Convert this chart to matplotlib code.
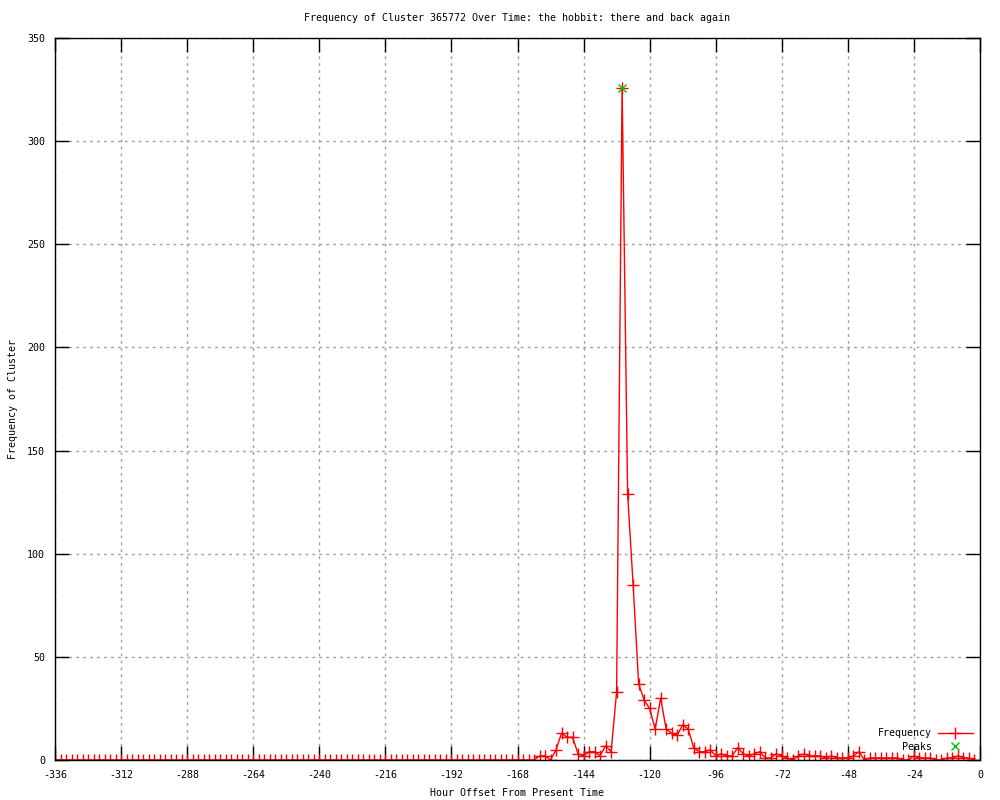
import numpy as np
import matplotlib
matplotlib.use('Agg')
import matplotlib.pyplot as plt

# hourly offsets, sampled every 2 hours
hours = np.arange(-336, 0, 2)

freq = [
    0, 0, 0, 0, 0, 0, 0, 0, 0, 0, 0, 0, 0, 0, 0, 0, 0, 0, 0, 0, 0, 0,
    0, 0, 0, 0, 0, 0, 0, 0, 0, 0, 0, 0, 0, 0, 0, 0, 0, 0, 0, 0, 0, 0,
    0, 0, 0, 0, 0, 0, 0, 0, 0, 0, 0, 0, 0, 0, 0, 0, 0, 0, 0, 0, 0, 0,
    0, 0, 0, 0, 0, 0, 0, 0, 0, 0, 0, 0, 0, 0, 0, 0, 0, 0, 0, 0, 0, 0,
    2, 2, 0, 5, 13, 11, 11, 3, 2, 4, 4, 2, 7, 4, 33, 326, 129, 85, 37, 29,
    25, 15, 30, 15, 13, 12, 17, 15, 6, 4, 4, 5, 2, 3, 2, 2, 6, 3, 2, 3,
    4, 1, 1, 3, 2, 1, 0, 2, 3, 2, 2, 2, 1, 2, 1, 1, 1, 2, 4, 0,
    1, 1, 1, 1, 1, 1, 0, 0, 2, 1, 1, 1, 0, 0, 1, 1, 2, 1, 1, 0,
]

peak_hours = [-130]
peak_vals = [326]

xticks = list(range(-336, 1, 24))
yticks = list(range(0, 351, 50))

font = 'DejaVu Sans Mono'
fs = 7.2

fig = plt.figure(figsize=(10, 8), dpi=100)
ax = fig.add_axes([0.055, 0.05, 0.925, 0.9025])

ax.plot(hours, freq, color='red', lw=1.0, marker='+', ms=8, mew=1.0,
        label='Frequency')
ax.plot(peak_hours, peak_vals, ls='none', color='#00c000', marker='x',
        ms=6, mew=1.0, label='Peaks')

ax.set_xlim(-336, 0)
ax.set_ylim(0, 350)
ax.set_xticks(xticks)
ax.set_yticks(yticks)
ax.set_xticklabels([str(v) for v in xticks], fontfamily=font, fontsize=fs)
ax.set_yticklabels([str(v) for v in yticks], fontfamily=font, fontsize=fs)
ax.tick_params(direction='in', length=10, width=1, top=True, right=True,
               pad=7, colors='black')

ax.grid(True, color='#a0a0a0', lw=1, ls=(0, (2, 3)))
ax.set_axisbelow(True)
for s in ax.spines.values():
    s.set_linewidth(1)
    s.set_color('black')

ax.text(0.5, 1.0277, 'Frequency of Cluster 365772 Over Time: the hobbit: there and back again',
        transform=ax.transAxes, ha='center', va='center',
        fontfamily=font, fontsize=fs)
ax.set_xlabel('Hour Offset From Present Time', fontfamily=font, fontsize=fs)
ax.xaxis.set_label_coords(0.5, -0.0457)
ax.xaxis.label.set_va('center')
ax.set_ylabel('Frequency of Cluster', fontfamily=font, fontsize=fs)
ax.yaxis.set_label_coords(-0.0454, 0.5)
ax.yaxis.label.set_va('center')

leg = ax.legend(loc='lower right', frameon=False, markerfirst=False,
                prop={'family': font, 'size': fs}, handlelength=3.5,
                handletextpad=0.6, labelspacing=0.35,
                bbox_to_anchor=(1.002, -0.001))

fig.savefig('out.png', dpi=100)
